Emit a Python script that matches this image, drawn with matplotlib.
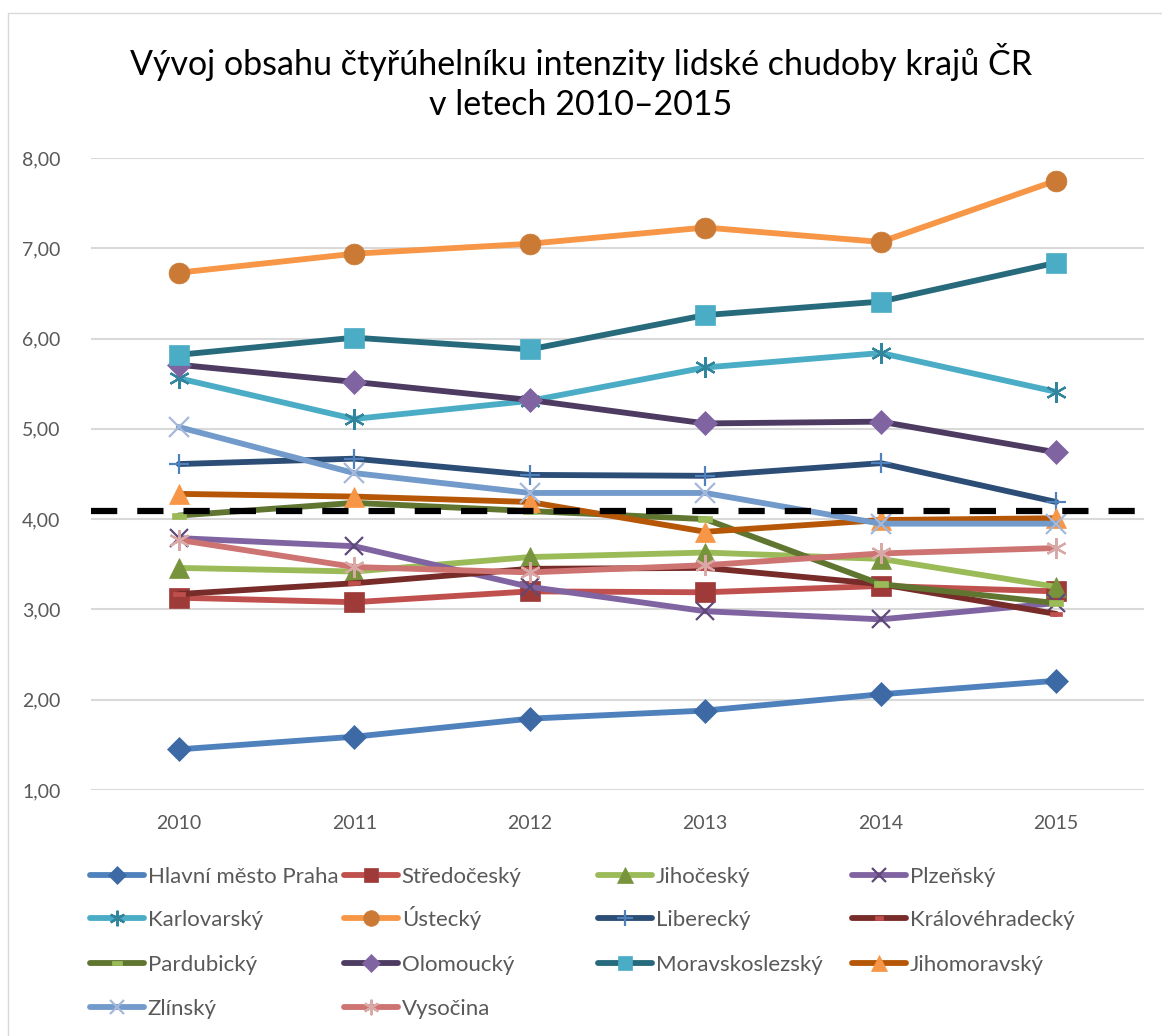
import numpy as np
import matplotlib.pyplot as plt
from matplotlib.patches import Rectangle
from matplotlib.path import Path

plt.rcParams["font.family"] = ["Lato", "DejaVu Sans"]

years = ["2010", "2011", "2012", "2013", "2014", "2015"]

praha = [1.45, 1.59, 1.79, 1.88, 2.06, 2.21]
stredocesky = [3.13, 3.08, 3.20, 3.19, 3.26, 3.20]
jihocesky = [3.46, 3.42, 3.58, 3.63, 3.56, 3.25]
plzensky = [3.79, 3.70, 3.25, 2.98, 2.89, 3.07]
karlovarsky = [5.56, 5.11, 5.31, 5.68, 5.84, 5.41]
ustecky = [6.73, 6.94, 7.05, 7.23, 7.07, 7.75]
liberecky = [4.61, 4.67, 4.49, 4.48, 4.62, 4.19]
kralovehradecky = [3.17, 3.29, 3.45, 3.46, 3.28, 2.95]
pardubicky = [4.04, 4.18, 4.09, 4.00, 3.28, 3.07]
olomoucky = [5.71, 5.52, 5.32, 5.06, 5.08, 4.74]
moravskoslezsky = [5.82, 6.01, 5.88, 6.26, 6.41, 6.84]
jihomoravsky = [4.28, 4.25, 4.19, 3.86, 3.99, 4.01]
zlinsky = [5.02, 4.51, 4.29, 4.29, 3.95, 3.95]
vysocina = [3.77, 3.47, 3.41, 3.49, 3.62, 3.68]
prumer = 4.09

# dash marker (short flat bar) like Excel's
dash = Path([(-1, -0.38), (1, -0.38), (1, 0.38), (-1, 0.38), (-1, -0.38)], closed=True)
aster = (6, 2, 0)

# name, data, line colour, marker, marker colour, marker size
series = [
    ("Hlavní město Praha", praha, "#4F81BD", "D", "#3D6AA5", 12),
    ("Středočeský", stredocesky, "#C0504D", "s", "#9E3B38", 14),
    ("Jihočeský", jihocesky, "#9BBB59", "^", "#77933C", 15),
    ("Plzeňský", plzensky, "#8064A2", "x", "#5F497A", 13),
    ("Karlovarský", karlovarsky, "#4BACC6", aster, "#31859C", 15),
    ("Ústecký", ustecky, "#F79646", "o", "#CB7A36", 15),
    ("Liberecký", liberecky, "#2C4D75", "+", "#4F81BD", 15),
    ("Královéhradecký", kralovehradecky, "#772C2A", dash, "#C0504D", 8),
    ("Pardubický", pardubicky, "#5F7530", dash, "#9BBB59", 10),
    ("Olomoucký", olomoucky, "#4D3B62", "D", "#8064A2", 12),
    ("Moravskoslezský", moravskoslezsky, "#276A7C", "s", "#4BACC6", 14),
    ("Jihomoravský", jihomoravsky, "#B65708", "^", "#F79646", 15),
    ("Zlínský", zlinsky, "#729ACA", "x", "#A5B8D9", 14),
    ("Vysočina", vysocina, "#CD7371", aster, "#D9A9A8", 15),
]

fig = plt.figure(figsize=(11.62, 10.36), dpi=100)
ax = fig.add_axes([91 / 1162, 1 - 790 / 1036, (1144 - 91) / 1162, 632 / 1036])

x = np.arange(len(years))
handles = []
for i, (name, vals, lc, mk, mc, ms) in enumerate(series):
    thin = mk in ("x", "+") or mk == aster
    (ln,) = ax.plot(
        x,
        vals,
        color=lc,
        lw=4.2,
        marker=mk,
        markersize=ms,
        markerfacecolor=mc,
        markeredgecolor=mc,
        markeredgewidth=1.6 if thin else 0.5,
        solid_capstyle="round",
        solid_joinstyle="round",
        label=name,
        zorder=3 + i * 0.01,
    )
    handles.append(ln)

ax.axhline(prumer, color="black", lw=4.5, dashes=(4.2, 3.2), zorder=4)

ax.set_xlim(-0.5, len(years) - 0.5)
ax.set_ylim(1, 8)
ax.set_xticks(x)
ax.set_xticklabels(years)
ax.set_yticks(np.arange(1, 9))
ax.set_yticklabels([f"{v:.2f}".replace(".", ",") for v in np.arange(1, 9)])
ax.tick_params(axis="both", length=0, labelsize=14, labelcolor="#595959")
ax.tick_params(axis="y", pad=22)
ax.tick_params(axis="x", pad=18)
ax.grid(axis="y", color="#D9D9D9", lw=1.5, zorder=0)
ax.set_axisbelow(True)
for s in ax.spines.values():
    s.set_visible(False)

fig.text(
    0.5,
    1 - 82 / 1036,
    "Vývoj obsahu čtyřúhelníku intenzity lidské chudoby krajů ČR\nv letech 2010–2015",
    ha="center",
    va="center",
    fontsize=24.5,
    linespacing=1.28,
    color="black",
)

# legend: Excel fills rows; one small legend per entry keeps the grid even
col_x = [90, 344, 598, 852]
row_y = [873, 916, 961, 1005]
for i, h in enumerate(handles):
    r, c = divmod(i, 4)
    leg = fig.legend(
        handles=[h],
        labels=[h.get_label()],
        loc="lower left",
        bbox_to_anchor=(col_x[c] / 1162, 1 - (row_y[r] + 14) / 1036),
        frameon=False,
        fontsize=16,
        markerscale=0.75,
        handlelength=2.45,
        handletextpad=0.15,
        borderpad=0,
        borderaxespad=0,
    )
    for t in leg.get_texts():
        t.set_color("#595959")

fig.patches.append(
    Rectangle(
        (8 / 1162, -0.1),
        1.2,
        1 - 13 / 1036 + 0.1,
        transform=fig.transFigure,
        fill=False,
        edgecolor="#D9D9D9",
        lw=1,
    )
)

fig.savefig("out.png", dpi=100)
